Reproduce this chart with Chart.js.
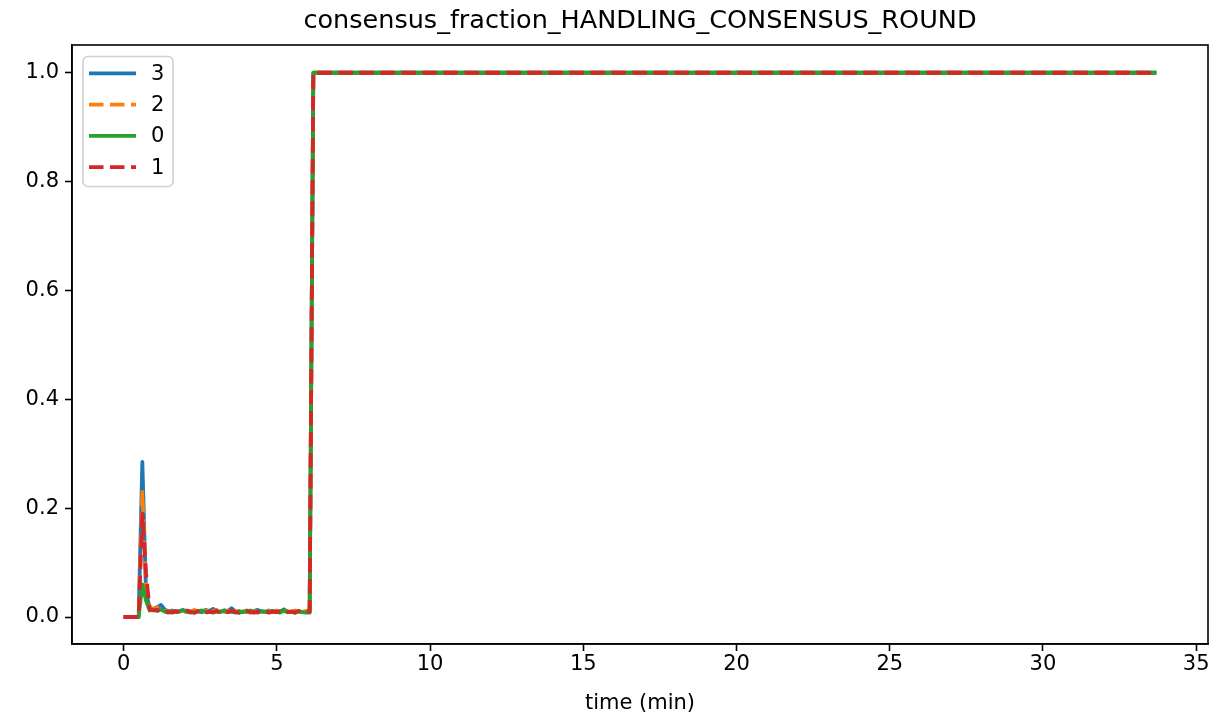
<!DOCTYPE html>
<html>
<head>
<meta charset="utf-8">
<script src="https://cdn.jsdelivr.net/npm/chart.js@4/dist/chart.umd.min.js"></script>
<style>
  html, body { margin: 0; padding: 0; background: #fff; }
  #wrap { width: 1211px; height: 717px; }
</style>
</head>
<body>
<div id="wrap"><canvas id="fractionCanvas" width="1211" height="717"></canvas></div>
<script>
// time axis (minutes)
const times = [0, 0.12, 0.24, 0.36, 0.49, 0.61, 0.73, 0.85, 0.97, 1.09,
    1.22, 1.34, 1.46, 1.58, 1.70, 1.82, 1.94, 2.07, 2.19, 2.31,
    2.43, 2.55, 2.67, 2.79, 2.92, 3.04, 3.16, 3.28, 3.40, 3.52,
    3.65, 3.77, 3.89, 4.01, 4.13, 4.25, 4.37, 4.50, 4.62, 4.74,
    4.86, 4.98, 5.10, 5.23, 5.35, 5.47, 5.59, 5.71, 5.83, 5.95,
    6.07, 6.19, 33.7];

const node3 = [0, 0, 0, 0, 0, 0.285, 0.045, 0.016, 0.015, 0.018,
    0.022, 0.014, 0.010, 0.012, 0.009, 0.011, 0.013, 0.010, 0.008, 0.012,
    0.010, 0.009, 0.013, 0.011, 0.015, 0.010, 0.009, 0.012, 0.011, 0.016,
    0.010, 0.008, 0.010, 0.012, 0.009, 0.011, 0.013, 0.010, 0.009, 0.012,
    0.010, 0.011, 0.009, 0.014, 0.010, 0.009, 0.011, 0.010, 0.009, 0.010,
    0.009, 1.0, 1.0];
const node2 = [0, 0, 0, 0, 0, 0.23, 0.06, 0.018, 0.014, 0.017,
    0.019, 0.012, 0.009, 0.011, 0.010, 0.012, 0.009, 0.011, 0.010, 0.013,
    0.009, 0.010, 0.012, 0.009, 0.011, 0.013, 0.010, 0.009, 0.012, 0.010,
    0.011, 0.009, 0.012, 0.010, 0.008, 0.011, 0.010, 0.012, 0.009, 0.011,
    0.010, 0.012, 0.009, 0.010, 0.011, 0.009, 0.012, 0.010, 0.009, 0.011,
    0.012, 1.0, 1.0];
const node0 = [0, 0, 0, 0, 0, 0.06, 0.03, 0.012, 0.013, 0.011,
    0.014, 0.010, 0.008, 0.011, 0.009, 0.010, 0.012, 0.009, 0.010, 0.008,
    0.011, 0.012, 0.009, 0.010, 0.008, 0.011, 0.010, 0.012, 0.009, 0.010,
    0.008, 0.011, 0.009, 0.010, 0.012, 0.009, 0.008, 0.011, 0.010, 0.009,
    0.011, 0.010, 0.008, 0.012, 0.009, 0.010, 0.008, 0.011, 0.009, 0.008,
    0.008, 1.0, 1.0];
const node1 = [0, 0, 0, 0, 0, 0.19, 0.08, 0.014, 0.012, 0.013,
    0.011, 0.009, 0.010, 0.008, 0.011, 0.009, 0.010, 0.012, 0.009, 0.008,
    0.011, 0.010, 0.008, 0.010, 0.009, 0.011, 0.008, 0.010, 0.009, 0.012,
    0.009, 0.008, 0.010, 0.011, 0.009, 0.008, 0.010, 0.009, 0.011, 0.008,
    0.010, 0.009, 0.011, 0.008, 0.009, 0.010, 0.008, 0.011, 0.009, 0.010,
    0.010, 1.0, 1.0];

const seriesNames = ["3", "2", "0", "1"];
const xTicks = [0, 5, 10, 15, 20, 25, 30, 35];
const yTicks = [0.0, 0.2, 0.4, 0.6, 0.8, 1.0];

const FONT = "'DejaVu Sans', sans-serif";
const colors = ['#1f77b4', '#ff7f0e', '#2ca02c', '#d62728'];
const dashes = [[], [14.5, 6.5], [], [14.5, 6.5]];

function toPoints(vals) {
    return times.map((t, i) => ({ x: t, y: vals[i] }));
}

// frame, title and the in-plot legend (matplotlib style)
const framePlugin = {
    id: 'framePlugin',
    afterDraw(chart) {
        const ctx = chart.ctx;
        const a = chart.chartArea;
        ctx.save();
        ctx.strokeStyle = '#000';
        ctx.lineWidth = 1.6;
        ctx.strokeRect(a.left, a.top, a.right - a.left, a.bottom - a.top);

        ctx.fillStyle = '#000';
        ctx.font = '25.5px ' + FONT;
        ctx.textAlign = 'center';
        ctx.textBaseline = 'middle';
        ctx.fillText('consensus_fraction_HANDLING_CONSENSUS_ROUND', (a.left + a.right) / 2, 21);

        // legend box
        const bx = 83, by = 56.5, bw = 90, bh = 130, r = 5;
        ctx.beginPath();
        ctx.moveTo(bx + r, by);
        ctx.arcTo(bx + bw, by, bx + bw, by + bh, r);
        ctx.arcTo(bx + bw, by + bh, bx, by + bh, r);
        ctx.arcTo(bx, by + bh, bx, by, r);
        ctx.arcTo(bx, by, bx + bw, by, r);
        ctx.closePath();
        ctx.fillStyle = 'rgba(255,255,255,0.8)';
        ctx.fill();
        ctx.strokeStyle = 'rgba(204,204,204,0.9)';
        ctx.lineWidth = 1.6;
        ctx.stroke();

        chart.data.datasets.forEach((ds, i) => {
            const y = 73.3 + i * 31.3;
            ctx.beginPath();
            ctx.setLineDash(dashes[i]);
            ctx.lineCap = 'butt';
            ctx.strokeStyle = ds.borderColor;
            ctx.lineWidth = 3.8;
            ctx.moveTo(89, y);
            ctx.lineTo(136, y);
            ctx.stroke();
            ctx.setLineDash([]);
            ctx.fillStyle = '#000';
            ctx.font = '21px ' + FONT;
            ctx.textAlign = 'left';
            ctx.textBaseline = 'middle';
            ctx.fillText(ds.label, 151, y + 1);
        });
        ctx.restore();
    }
};

const seriesValues = [node3, node2, node0, node1];
const datasets = seriesNames.map((name, i) => ({
    label: name,
    data: toPoints(seriesValues[i]),
    borderColor: colors[i],
    backgroundColor: colors[i],
    borderWidth: 3.8,
    borderDash: dashes[i],
    borderCapStyle: 'butt',
    borderJoinStyle: 'round',
    pointRadius: 0,
    tension: 0,
    fill: false,
    // later series are drawn on top, like matplotlib
    order: seriesNames.length - i
}));

let ctx = document.getElementById('fractionCanvas').getContext('2d');
let fractionChart = new Chart(ctx, {
    type: 'line',
    data: { datasets: datasets },
    plugins: [framePlugin],
    options: {
        responsive: false,
        animation: false,
        layout: { padding: { top: 45, right: 3, bottom: 0, left: 0 } },
        plugins: {
            legend: { display: false },
            title: { display: false },
            tooltip: { enabled: false }
        },
        scales: {
            x: {
                type: 'linear',
                min: -1.685,
                max: 35.385,
                afterBuildTicks: axis => { axis.ticks = xTicks.map(v => ({ value: v })); },
                afterFit: axis => {
                    axis.height = 73;
                    axis.paddingLeft = 0;
                    axis.paddingRight = 0;
                },
                ticks: {
                    autoSkip: false,
                    maxRotation: 0,
                    padding: 1,
                    color: '#000',
                    font: { family: FONT, size: 21 },
                    callback: v => String(v)
                },
                grid: {
                    drawOnChartArea: false,
                    drawTicks: true,
                    tickLength: 7,
                    tickWidth: 1.6,
                    tickColor: '#000'
                },
                border: { display: true, color: '#000', width: 1.6 },
                title: {
                    display: true,
                    text: 'time (min)',
                    color: '#000',
                    font: { family: FONT, size: 21 },
                    padding: { top: 0, bottom: 1 }
                }
            },
            y: {
                type: 'linear',
                min: -0.0496,
                max: 1.051,
                afterBuildTicks: axis => { axis.ticks = yTicks.map(v => ({ value: v })); },
                afterFit: axis => {
                    axis.width = 72;
                    axis.paddingTop = 0;
                    axis.paddingBottom = 0;
                },
                ticks: {
                    padding: 6,
                    color: '#000',
                    font: { family: FONT, size: 21 },
                    callback: v => Number(v).toFixed(1)
                },
                grid: {
                    drawOnChartArea: false,
                    drawTicks: true,
                    tickLength: 7,
                    tickWidth: 1.6,
                    tickColor: '#000'
                },
                border: { display: true, color: '#000', width: 1.6 }
            }
        }
    }
});
</script>
</body>
</html>
